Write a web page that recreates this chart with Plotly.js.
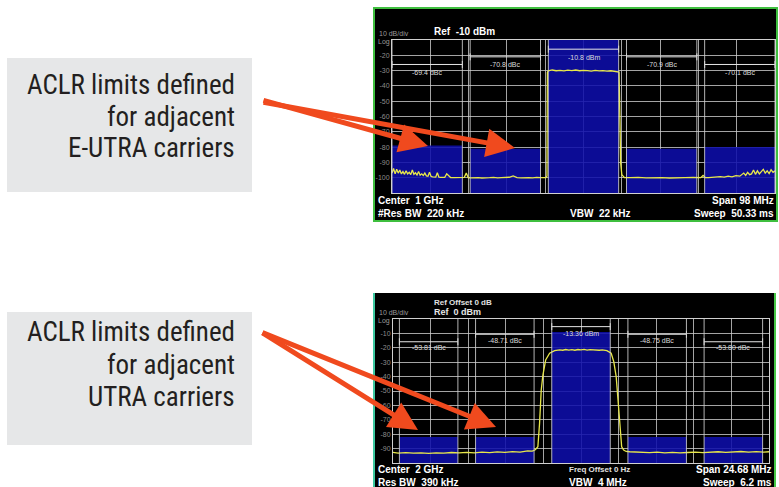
<!DOCTYPE html>
<html><head><meta charset="utf-8">
<script src="https://cdn.plot.ly/plotly-3.0.1.min.js"></script>
<style>html,body{margin:0;padding:0;background:#fff}#chart{width:779px;height:487px}</style>
</head><body><div id="chart"></div>
<script>
// ---------- Top analyzer (E-UTRA) ----------
const topCenters = [-40, -20, 0, 20, 40];          // MHz offset from 1 GHz
const topChanWidth = 18;                            // MHz
const topLimits = [-79, -81, -10, -81, -80];        // dBm, top of blue limit blocks
const topLabels = ['-69.4 dBc', '-70.8 dBc', '-10.8 dBm', '-70.9 dBc', '-70.1 dBc'];
const topBracketLevels = [-26, -21, -16, -21, -26];
const topLabelLevels = [-31, -26, -21.5, -26, -31];
const topYTicks = [-20, -30, -40, -50, -60, -70, -80, -90, -100];
const topTraceX = [-49,-48.6,-48.2,-47.8,-47.4,-47,-46.6,-46.2,-45.8,-45.4,-45,-44.6,-44.2,-43.8,-43.4,-43,-42.6,-42.2,-41.8,-41.4,-41,-40.6,-40.2,-39.8,-39.4,-39,-38.6,-38.2,-37.8,-37.4,-37,-36.5,-36,-35.5,-35,-34,-33,-32,-31,-30.5,-30,-29.5,-29,-28,-27,-26,-25,-24,-23,-22,-21,-20,-19,-18,-17,-16,-15,-14,-13,-12,-11,-10,-9.6,-9.35,-9.25,-9.0,-8.5,-8,-7,-6,-5,-4,-3,-2,-1,0,1,2,3,4,5,6,7,8,8.8,9.1,9.3,9.5,9.8,10.5,12,14,16,18,20,22,24,26,28,30,30.6,31.2,32,33,34,35,36,37,38,39,40,41,41.5,42,42.5,43,43.5,44,44.5,45,45.5,46,46.5,47,47.5,48,48.5,49];
const topTraceY = [-97,-94,-97.5,-94.5,-97,-95,-97.5,-96,-97.8,-95.5,-97.5,-96.5,-98,-95,-97.8,-96.8,-98.2,-96,-98.4,-97.5,-98.6,-97,-98.8,-99,-96.5,-99.2,-99.4,-99.5,-99.6,-96.8,-99.6,-99.8,-99.7,-99.8,-97.5,-99.9,-100,-99.9,-100,-99.8,-97,-100,-100.1,-99.9,-100,-100.2,-99.9,-100,-99.8,-100.1,-99.9,-100,-99.7,-98.8,-100,-100.1,-99.9,-100,-100.1,-99.8,-100,-100.1,-100,-99,-31,-30.2,-30,-29.6,-30.1,-29.8,-30.2,-29.7,-30,-29.6,-30.1,-29.8,-30,-30.3,-29.9,-30.2,-30,-30.3,-30.1,-30.4,-30.5,-31,-60,-90,-98,-100,-100,-99.8,-100.1,-99.9,-100,-100.2,-99.9,-100,-99.8,-100,-98.5,-100,-100,-99.7,-99.8,-99.3,-99.6,-99,-99.4,-98.6,-99,-97,-98.5,-96.5,-98,-97.5,-95,-97.8,-95.5,-97.5,-96,-94.5,-97,-95.5,-97.3,-94.8,-96.5,-95.5];

// ---------- Bottom analyzer (UTRA) ----------
const botCenters = [-10, -5, 0, 5, 10];             // MHz offset from 2 GHz
const botChanWidth = 3.84;                          // MHz
const botLimits = [-82, -82, -9, -82, -82];
const botLabels = ['-53.81 dBc', '-48.71 dBc', '-13.36 dBm', '-48.75 dBc', '-53.80 dBc'];
const botBracketLevels = [-15.8, -10.6, -5.3, -10.6, -15.8];
const botLabelLevels = [-19.6, -15, -10, -15, -19.6];
const botYTicks = [-10, -20, -30, -40, -50, -60, -70, -80, -90];
const botTraceX = [-12.34,-12,-11.5,-11,-10.5,-10,-9.5,-9,-8.5,-8,-7.5,-7,-6.5,-6,-5.5,-5,-4.5,-4,-3.5,-3.2,-3.0,-2.83,-2.72,-2.61,-2.5,-2.32,-2.06,-1.73,-1.4,-1.2,-1,-0.8,-0.6,-0.4,-0.2,0,0.2,0.4,0.6,0.8,1,1.2,1.4,1.7,1.98,2.15,2.31,2.41,2.52,2.67,2.8,2.96,3.2,3.5,4,4.5,5,5.5,6,6.5,7,7.5,8,8.5,9,9.5,10,10.5,11,11.5,12,12.34];
const botTraceY = [-92.6,-93.1,-92.8,-93.2,-93,-93.3,-92.9,-93.2,-92.7,-93,-92.6,-92.9,-92.5,-92.8,-92.3,-92.6,-92.1,-92.4,-91.6,-91.8,-90.8,-88.7,-72.5,-49.3,-38.9,-28.5,-23.8,-22,-21.4,-21.7,-21.2,-21.6,-21.3,-21.7,-21.2,-21.5,-21.1,-21.6,-21.2,-21.5,-21.3,-21.7,-21.4,-22,-23.8,-29.6,-40,-54,-72.5,-88.7,-91,-92,-92.2,-92.4,-92.6,-92.8,-92.5,-92.9,-92.6,-93,-92.7,-92.4,-92.8,-92.5,-92.2,-92.6,-92.3,-92,-92.4,-92.1,-92.5,-92.2];

// ---------- Callouts ----------
const calloutTop = ['ACLR limits defined', 'for adjacent', 'E-UTRA carriers'];
const calloutBot = ['ACLR limits defined', 'for adjacent', 'UTRA carriers'];

const W = 779, H = 487;
const PX = X => X / W, PY = Y => 1 - Y / H;
const gridCol = 'rgba(205,205,205,0.8)';
const anaFont = 'Liberation Sans, Arial, sans-serif';

function xAxis(range, domain, anchor) {
  return {domain, range, tick0: range[0], dtick: (range[1]-range[0])/10, showticklabels: false, ticks: '',
    showgrid: true, gridcolor: gridCol, gridwidth: 1, zeroline: false, showline: true, mirror: true,
    linecolor: '#d0d0d0', linewidth: 1, anchor, fixedrange: true};
}
function yAxis(range, domain, anchor, ticks) {
  return {domain, range, tick0: range[0], dtick: 10, tickmode: 'array', tickvals: ticks, ticktext: ticks.map(String),
    tickfont: {family: anaFont, size: 7, color: '#8c8c8c'}, ticks: '', showgrid: true, gridcolor: gridCol,
    zeroline: false, showline: true, mirror: true, linecolor: '#d0d0d0', linewidth: 1, anchor, fixedrange: true};
}
function bars(centers, w, limits, floor, xa, ya) {
  return {type: 'bar', x: centers, y: limits.map(v => v - floor), base: centers.map(() => floor),
    width: centers.map(() => w), marker: {color: 'rgba(14,14,170,0.88)', line: {width: 0}},
    xaxis: xa, yaxis: ya, hoverinfo: 'skip', showlegend: false};
}
function bracket(centers, w, levels, xa, ya) {
  const xs = [], ys = [];
  centers.forEach((c, i) => { xs.push(c - w/2, c + w/2, null); ys.push(levels[i], levels[i], null); });
  return {type: 'scatter', mode: 'lines+markers', x: xs, y: ys, line: {color: '#e6e6e6', width: 1},
    marker: {symbol: 'line-ns', size: 5, line: {color: '#e6e6e6', width: 1}},
    xaxis: xa, yaxis: ya, hoverinfo: 'skip', showlegend: false, cliponaxis: false};
}
function trace(x, y, xa, ya) {
  return {type: 'scatter', mode: 'lines', x, y, line: {color: '#e8e84a', width: 1.3},
    xaxis: xa, yaxis: ya, hoverinfo: 'skip', showlegend: false};
}
function edgeShapes(centers, w, xr, yr) {
  const s = [];
  centers.forEach(c => [c - w/2, c + w/2].forEach(e => s.push({type: 'line', xref: xr, yref: yr + ' domain',
    x0: e, x1: e, y0: 0, y1: 1, line: {color: 'rgba(210,210,210,0.85)', width: 1}, layer: 'above'})));
  return s;
}
function chanLabels(centers, labels, levels, xr, yr) {
  return centers.map((c, i) => ({xref: xr, yref: yr, x: c, y: levels[i], text: labels[i], showarrow: false,
    font: {family: anaFont, size: 7, color: '#dcdcdc'}, xanchor: 'center', yanchor: 'middle'}));
}
function ptxt(text, X, Y, anchor, size, color, bold, family) {
  return {xref: 'paper', yref: 'paper', x: PX(X), y: PY(Y), text: bold ? '<b>' + text + '</b>' : text,
    showarrow: false, xanchor: anchor, yanchor: 'middle',
    font: {family: family || anaFont, size, color}};
}
function arrow(tx, ty, hx, hy) {
  return {xref: 'paper', yref: 'paper', x: PX(hx), y: PY(hy), ax: tx - hx, ay: ty - hy, axref: 'pixel', ayref: 'pixel',
    text: '', showarrow: true, arrowhead: 2, arrowsize: 1.15, arrowwidth: 5, arrowcolor: '#f04a1e', standoff: 0, startstandoff: 0};
}
function rect(x0, y0, x1, y1, fill, lineCol, lw) {
  return {type: 'rect', xref: 'paper', yref: 'paper', x0: PX(x0), x1: PX(x1), y0: PY(y1), y1: PY(y0),
    fillcolor: fill, line: {color: lineCol || 'rgba(0,0,0,0)', width: lw || 0}, layer: 'below'};
}

const calloutFamily = 'Roboto Condensed, Liberation Sans Narrow, Roboto, sans-serif';
function callout(lines, ys) {
  return lines.map((t, i) => ptxt(t, 237, ys[i], 'right', 27, '#231f20', false, calloutFamily));
}

const topFloor = -110, botFloor = -100;
const data = [
  bars(topCenters, topChanWidth, topLimits, topFloor, 'x', 'y'),
  trace(topTraceX, topTraceY, 'x', 'y'),
  bracket(topCenters, topChanWidth, topBracketLevels, 'x', 'y'),
  bars(botCenters, botChanWidth, botLimits, botFloor, 'x2', 'y2'),
  trace(botTraceX, botTraceY, 'x2', 'y2'),
  bracket(botCenters, botChanWidth, botBracketLevels, 'x2', 'y2')
];

const layout = {
  width: W, height: H, margin: {l: 0, r: 0, t: 0, b: 0}, paper_bgcolor: '#ffffff', plot_bgcolor: '#000000',
  showlegend: false, barmode: 'overlay',
  xaxis: xAxis([-49, 49], [392/W, 775/W], 'y'),
  yaxis: yAxis([topFloor, -10], [1 - 193/H, 1 - 40/H], 'x', topYTicks),
  xaxis2: xAxis([-12.34, 12.34], [393/W, 769/W], 'y2'),
  yaxis2: yAxis([botFloor, 0], [1 - 463/H, 1 - 319/H], 'x2', botYTicks),
  shapes: [
    rect(7, 58, 252, 192, '#e6e7e8'),
    rect(7, 312, 252, 445, '#e6e7e8'),
    rect(374, 8, 777, 221, '#000000', '#3fbf3f', 2),
    rect(373, 293, 776, 487, '#000000'),
    {type: 'line', xref: 'paper', yref: 'paper', x0: PX(374), x1: PX(374), y0: 0, y1: PY(293), line: {color: '#3cc8a0', width: 2}},
    {type: 'line', xref: 'paper', yref: 'paper', x0: PX(775), x1: PX(775), y0: 0, y1: PY(293), line: {color: '#46c846', width: 2}},
    ...edgeShapes(topCenters, topChanWidth, 'x', 'y'),
    ...edgeShapes(botCenters, botChanWidth, 'x2', 'y2')
  ],
  annotations: [
    ...callout(calloutTop, [85, 117, 148]),
    ...callout(calloutBot, [332, 365, 397]),
    // top analyzer texts
    ptxt('10 dB/div', 377, 33, 'left', 7, '#9a9a9a', false),
    ptxt('Log', 376, 42, 'left', 7, '#9a9a9a', false),
    ptxt('Ref  -10 dBm', 432, 32, 'left', 10, '#ffffff', true),
    ptxt('Center  1 GHz', 376, 200, 'left', 10, '#ffffff', true),
    ptxt('#Res BW  220 kHz', 376, 213, 'left', 10, '#ffffff', true),
    ptxt('VBW  22 kHz', 568, 213, 'left', 10, '#ffffff', true),
    ptxt('Span 98 MHz', 776, 200, 'right', 10, '#ffffff', true),
    ptxt('Sweep  50.33 ms', 776, 213, 'right', 10, '#ffffff', true),
    ...chanLabels(topCenters, topLabels, topLabelLevels, 'x', 'y'),
    // bottom analyzer texts
    ptxt('Ref Offset 0 dB', 432, 302, 'left', 8, '#e0e0e0', true),
    ptxt('Ref  0 dBm', 432, 312, 'left', 9, '#e8e8e8', true),
    ptxt('10 dB/div', 377, 312, 'left', 7, '#9a9a9a', false),
    ptxt('Log', 376, 321, 'left', 7, '#9a9a9a', false),
    ptxt('Center  2 GHz', 376, 469, 'left', 10, '#ffffff', true),
    ptxt('Res BW  390 kHz', 376, 482, 'left', 10, '#ffffff', true),
    ptxt('Freq Offset 0 Hz', 567, 469, 'left', 8, '#e0e0e0', true),
    ptxt('VBW  4 MHz', 567, 482, 'left', 10, '#ffffff', true),
    ptxt('Span 24.68 MHz', 774, 469, 'right', 10, '#ffffff', true),
    ptxt('Sweep  6.2 ms', 774, 482, 'right', 10, '#ffffff', true),
    ...chanLabels(botCenters, botLabels, botLabelLevels, 'x2', 'y2'),
    // arrows
    arrow(262, 100, 428, 146),
    arrow(262, 102, 515, 148),
    arrow(261, 332, 418, 430),
    arrow(261, 332, 496, 427)
  ]
};

Plotly.newPlot('chart', data, layout, {staticPlot: true, displayModeBar: false});
</script>
</body></html>
